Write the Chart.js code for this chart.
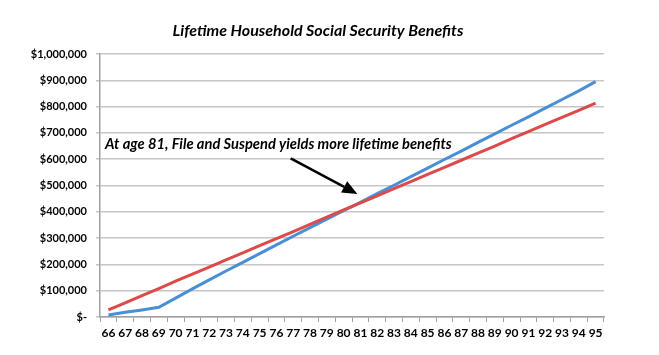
<!DOCTYPE html>
<html>
<head>
<meta charset="utf-8">
<script src="https://cdn.jsdelivr.net/npm/chart.js@4"></script>
<style>
  html, body { margin: 0; padding: 0; background: #ffffff; }
  #wrap { width: 659px; height: 355px; }
</style>
</head>
<body>
<div id="wrap"><canvas id="c" width="659" height="355"></canvas></div>
<script>
const title = 'Lifetime Household Social Security Benefits';
const annotationText = 'At age 81, File and Suspend yields more lifetime benefits';
const ages = ['66','67','68','69','70','71','72','73','74','75','76','77','78','79','80','81','82','83','84','85','86','87','88','89','90','91','92','93','94','95'];
const fileAndSuspend = [8000,18000,27000,37000,72000,107000,141000,175000,208000,241000,274000,307000,340000,372000,404000,436000,469000,501000,534000,566000,599000,631000,664000,696000,729000,761000,794000,827000,860000,895000];
const claimNow = [27000,54000,81000,108000,136000,163000,190000,217000,244000,271000,298000,325000,352000,380000,407000,434000,461000,488000,515000,542000,569000,596000,623000,650000,678000,705000,732000,759000,786000,813000];
const yTicks = [0,100000,200000,300000,400000,500000,600000,700000,800000,900000,1000000];
// arrow annotation in data units: [category index, value]
const arrowTail = [10.85, 603000];
const arrowTip = [14.82, 468000];
const textAnchor = [-0.2, 656000];

const FONT = 'Lato, "Open Sans", sans-serif';

function fmtMoney(v) {
  if (v === 0) return '$-';
  return '$' + v.toLocaleString('en-US');
}

const overlay = {
  id: 'overlay',
  afterDraw(chart) {
    const ctx = chart.ctx;
    const xs = chart.scales.x, ys = chart.scales.y;
    ctx.save();
    // title
    ctx.fillStyle = '#000';
    ctx.font = 'italic bold 16px ' + FONT;
    ctx.textAlign = 'center';
    ctx.textBaseline = 'middle';
    ctx.fillText(title, 318, 31);
    // annotation text
    ctx.font = 'italic bold 14.7px ' + FONT;
    ctx.textAlign = 'left';
    ctx.fillText(annotationText, xs.getPixelForValue(textAnchor[0]), ys.getPixelForValue(textAnchor[1]));
    // arrow
    const x1 = xs.getPixelForValue(arrowTail[0]), y1 = ys.getPixelForValue(arrowTail[1]);
    const x2 = xs.getPixelForValue(arrowTip[0]), y2 = ys.getPixelForValue(arrowTip[1]);
    const ang = Math.atan2(y2 - y1, x2 - x1);
    const headLen = 15, headW = 6.5;
    const bx = x2 - headLen * Math.cos(ang), by = y2 - headLen * Math.sin(ang);
    ctx.strokeStyle = '#000';
    ctx.lineWidth = 2.5;
    ctx.beginPath();
    ctx.moveTo(x1, y1);
    ctx.lineTo(bx, by);
    ctx.stroke();
    ctx.beginPath();
    ctx.moveTo(x2, y2);
    ctx.lineTo(bx + headW * Math.sin(ang), by - headW * Math.cos(ang));
    ctx.lineTo(bx - headW * Math.sin(ang), by + headW * Math.cos(ang));
    ctx.closePath();
    ctx.fill();
    ctx.restore();
  }
};

new Chart(document.getElementById('c'), {
  type: 'line',
  data: {
    labels: ages,
    datasets: [
      { label: 'File and Suspend', data: fileAndSuspend, borderColor: '#4a8fd6', borderWidth: 3, pointRadius: 0, tension: 0, order: 1 },
      { label: 'Claim Now', data: claimNow, borderColor: '#dc4a4a', borderWidth: 3, pointRadius: 0, tension: 0, order: 0 }
    ]
  },
  options: {
    responsive: false,
    animation: false,
    layout: { padding: { left: 0, right: 55, top: 54, bottom: 0 } },
    plugins: { legend: { display: false }, tooltip: { enabled: false }, title: { display: false } },
    scales: {
      x: {
        type: 'category',
        offset: true,
        afterFit(s) { s.height = 38; },
        grid: { display: true, drawOnChartArea: false, drawTicks: true, tickLength: 5, offset: true, color: '#a0a0a0', lineWidth: 1 },
        border: { display: true, color: '#a0a0a0', width: 1.5 },
        ticks: { color: '#000', font: { family: FONT, weight: 'bold', size: 12 }, padding: 4, maxRotation: 0, autoSkip: false }
      },
      y: {
        min: 0, max: 1000000,
        afterFit(s) { s.width = 100; },
        afterBuildTicks(s) { s.ticks = yTicks.map(v => ({ value: v })); },
        grid: { color: '#c6c6c6', lineWidth: 1.5, drawTicks: true, tickLength: 4 },
        border: { display: true, color: '#a0a0a0', width: 1.5 },
        ticks: { color: '#000', font: { family: FONT, weight: 'bold', size: 11 }, padding: 9, callback: v => fmtMoney(v) }
      }
    }
  },
  plugins: [overlay]
});
</script>
</body>
</html>
